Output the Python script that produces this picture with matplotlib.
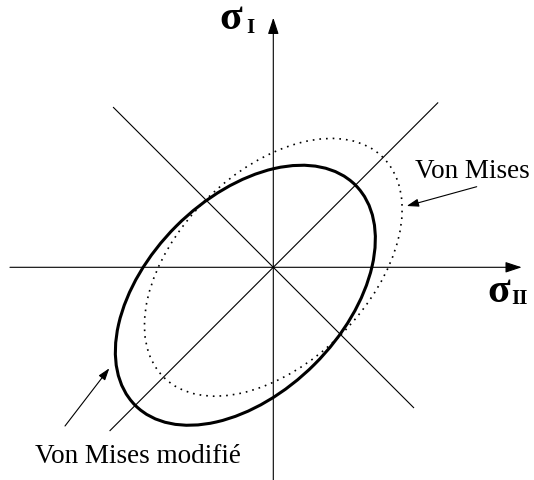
import numpy as np
import matplotlib
matplotlib.use('Agg')
import matplotlib.pyplot as plt
from matplotlib.patches import Ellipse

# Critères en unités de sigma_0 (1 unité = limite en traction simple)
# Von Mises (pointillé) : ellipse centrée, inclinée à 45°
vm_centre = (0.0, 0.0)
vm_demi_axes = (1.35, 0.83)
vm_angle = 45

# Von Mises modifié (trait plein) : ellipse décalée vers la compression
vmm_centre = (-0.243, -0.243)
vmm_demi_axes = (1.354, 0.85)
vmm_angle = 45

# Étendue des axes et des diagonales
axe_h = (-2.29, 2.16)
axe_v = (-1.86, 2.17)
diag_1 = (-1.42, 1.43)
diag_2 = (-1.39, 1.22)

plt.rcParams['font.family'] = ['Liberation Serif', 'DejaVu Serif']

fig = plt.figure(figsize=(5.34, 4.8), dpi=100)
ax = fig.add_axes([0, 0, 1, 1])
ax.set_xlim(-273.3 / 115, (534 - 273.3) / 115)
ax.set_ylim(-212.7 / 115, 267.3 / 115)
ax.axis('off')

# Axes sigma_II (horizontal) et sigma_I (vertical) avec flèches
fleche = dict(arrowstyle='-|>,head_length=1.0,head_width=0.33', color='black',
              lw=0.8, mutation_scale=10, shrinkA=0, shrinkB=0)
ax.annotate('', xy=(axe_h[1], 0), xytext=(axe_h[0], 0), arrowprops=fleche)
ax.annotate('', xy=(0, axe_v[1]), xytext=(0, axe_v[0]), arrowprops=fleche)

# Diagonales
ax.plot(diag_1, diag_1, color='black', lw=0.8)
ax.plot([diag_2[0], diag_2[1]], [-diag_2[0], -diag_2[1]], color='black', lw=0.8)

# Ellipses
e_vm = Ellipse(vm_centre, 2 * vm_demi_axes[0], 2 * vm_demi_axes[1], angle=vm_angle,
               fill=False, color='black', lw=1.2, linestyle=(0, (1, 3)))
e_vmm = Ellipse(vmm_centre, 2 * vmm_demi_axes[0], 2 * vmm_demi_axes[1], angle=vmm_angle,
                fill=False, color='black', lw=2.2)
ax.add_patch(e_vm)
ax.add_patch(e_vmm)

# Libellés des axes
ax.text(-0.466, 2.072, 'σ', fontsize=30, fontweight='bold', ha='left', va='baseline')
ax.text(-0.237, 2.037, 'I', fontsize=15, fontweight='bold', ha='left', va='baseline')
ax.text(1.858, -0.302, 'σ', fontsize=30, fontweight='bold', ha='left', va='baseline')
ax.text(2.073, -0.319, 'II', fontsize=15, fontweight='bold', ha='left', va='baseline')

# Annotations
petite = dict(arrowstyle='-|>,head_length=0.9,head_width=0.3', color='black',
              lw=0.8, mutation_scale=8, shrinkA=0, shrinkB=0)
ax.annotate('', xy=((406.7 - 273.3) / 115, (267.3 - 206) / 115),
            xytext=((476.7 - 273.3) / 115, (267.3 - 186.7) / 115), arrowprops=petite)
ax.text(1.232, 0.777, 'Von Mises', fontsize=19.5, ha='left', va='baseline')

ax.annotate('', xy=((109.3 - 273.3) / 115, (267.3 - 368.3) / 115),
            xytext=((65 - 273.3) / 115, (267.3 - 426) / 115), arrowprops=petite)
ax.text(-2.072, -1.699, 'Von Mises modifié', fontsize=19.5, ha='left', va='baseline')

plt.savefig('out.png', dpi=100)
